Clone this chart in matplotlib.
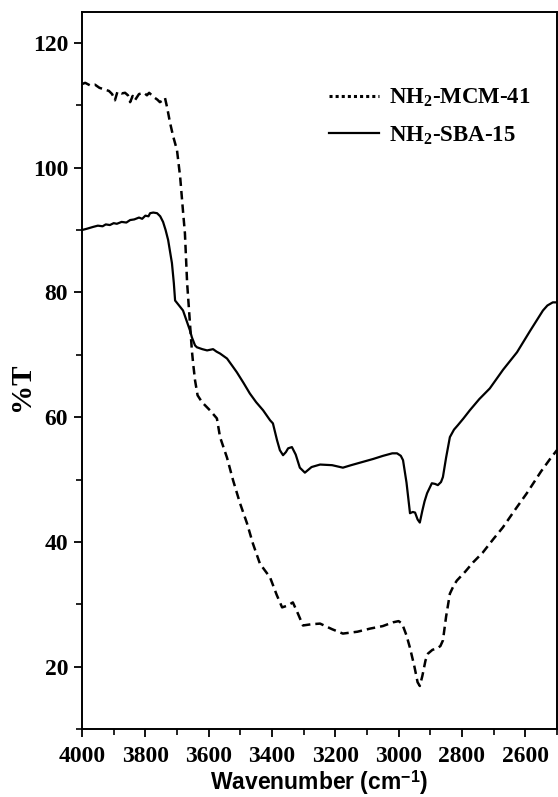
import matplotlib
matplotlib.use("Agg")
import matplotlib.pyplot as plt
from matplotlib.lines import Line2D
from matplotlib.ticker import MultipleLocator

# Fonts: Times-like bold for ticks and legend, Arial-like bold for x label
plt.rcParams['font.family'] = ['Liberation Serif', 'DejaVu Serif']
plt.rcParams['font.weight'] = 'bold'
plt.rcParams['mathtext.fontset'] = 'custom'
plt.rcParams['mathtext.rm'] = 'Liberation Serif:bold'
plt.rcParams['mathtext.it'] = 'Liberation Serif:bold'
plt.rcParams['mathtext.bf'] = 'Liberation Serif:bold'
plt.rcParams['mathtext.sf'] = 'Liberation Sans:bold'

# Data
mcm_wn = [4000, 3990, 3975, 3959, 3945, 3927, 3915, 3905, 3896, 3888, 3875,
          3864, 3855, 3848, 3840, 3833, 3820, 3804, 3795, 3788, 3773, 3762,
          3754, 3745, 3738, 3731, 3722, 3712, 3700, 3690, 3681, 3675, 3668,
          3659, 3653, 3649, 3643, 3635, 3621, 3596, 3574, 3564, 3542, 3523,
          3501, 3479, 3460, 3438, 3406, 3385, 3368, 3350, 3334, 3318, 3302,
          3275, 3248, 3210, 3176, 3130, 3090, 3050, 3018, 3000, 2989, 2975,
          2964, 2950, 2940, 2933, 2925, 2915, 2907, 2893, 2879, 2868, 2860,
          2850, 2838, 2826, 2816, 2790, 2765, 2734, 2700, 2671, 2630, 2595,
          2550, 2520, 2500]
mcm_t = [113.4, 113.6, 113.2, 113.3, 112.8, 112.5, 112.3, 111.8, 110.8, 112.2,
         111.9, 112.0, 111.6, 110.5, 111.5, 110.8, 111.8, 112.0, 111.6, 112.0,
         111.3, 110.9, 110.5, 110.8, 111.2, 109.6, 107.2, 105.0, 102.8, 98.5,
         93.0, 89.5, 81.5, 75.0, 70.7, 68.6, 65.9, 63.5, 62.4, 61.1, 59.8,
         56.8, 53.5, 49.9, 46.2, 43.0, 39.7, 36.5, 34.3, 31.5, 29.5, 29.8,
         30.3, 28.5, 26.6, 26.8, 26.9, 26.0, 25.3, 25.6, 26.1, 26.5, 27.1,
         27.3, 26.9, 25.0, 23.0, 20.0, 17.5, 16.9, 18.5, 21.0, 22.1, 22.7,
         22.9, 23.3, 24.2, 28.0, 31.7, 33.0, 33.8, 35.2, 36.7, 38.3, 40.5,
         42.3, 45.3, 47.8, 51.3, 53.4, 54.7]

sba_wn = [4000, 3985, 3965, 3950, 3935, 3925, 3912, 3900, 3890, 3875, 3860,
          3848, 3835, 3820, 3810, 3800, 3790, 3785, 3775, 3763, 3753, 3744,
          3736, 3728, 3716, 3710, 3706, 3695, 3681, 3670, 3659, 3653, 3643,
          3637, 3620, 3605, 3586, 3575, 3564, 3542, 3525, 3511, 3490, 3470,
          3450, 3428, 3406, 3397, 3384, 3375, 3365, 3356, 3349, 3337, 3325,
          3312, 3296, 3275, 3248, 3210, 3176, 3150, 3122, 3080, 3049, 3020,
          3005, 2993, 2986, 2975, 2964, 2955, 2948, 2940, 2933, 2925, 2918,
          2910, 2895, 2885, 2876, 2866, 2860, 2850, 2838, 2825, 2813, 2795,
          2775, 2745, 2712, 2670, 2626, 2585, 2544, 2530, 2513, 2500]
sba_t = [90.0, 90.2, 90.5, 90.7, 90.6, 90.9, 90.8, 91.1, 91.0, 91.3, 91.2,
         91.6, 91.7, 92.0, 91.8, 92.3, 92.2, 92.7, 92.8, 92.7, 92.2, 91.3,
         90.0, 88.4, 84.7, 81.5, 78.7, 78.0, 77.1, 75.5, 73.9, 72.8, 71.5,
         71.2, 70.9, 70.7, 70.9, 70.5, 70.2, 69.4, 68.2, 67.2, 65.5, 63.8,
         62.4, 61.1, 59.5, 59.0, 56.3, 54.7, 53.9, 54.4, 55.0, 55.2, 54.0,
         51.9, 51.1, 52.0, 52.4, 52.3, 51.9, 52.3, 52.7, 53.3, 53.8, 54.2,
         54.2, 53.8, 53.1, 49.5, 44.6, 44.8, 44.7, 43.6, 43.1, 45.0, 46.5,
         47.8, 49.4, 49.3, 49.1, 49.6, 50.4, 53.5, 56.8, 58.0, 58.7, 59.8,
         61.1, 62.9, 64.6, 67.6, 70.4, 73.8, 77.1, 77.9, 78.4, 78.4]

labels = [r'NH$_2$-MCM-41', r'NH$_2$-SBA-15']

fig = plt.figure(figsize=(5.58, 7.97), dpi=100)
ax = fig.add_axes([0.147, 0.0853, 0.851, 0.9])

ax.plot(mcm_wn, mcm_t, color='black', lw=1.8, linestyle=(0, (3.4, 2.0)))
ax.plot(sba_wn, sba_t, color='black', lw=1.6)

ax.set_xlim(4000, 2500)
ax.set_ylim(10, 125)
ax.xaxis.set_major_locator(MultipleLocator(200))
ax.xaxis.set_minor_locator(MultipleLocator(100))
ax.yaxis.set_major_locator(MultipleLocator(20))
ax.yaxis.set_minor_locator(MultipleLocator(10))
ax.tick_params(which='major', direction='out', length=6, width=1.3,
               labelsize=17, pad=4, top=False, right=False)
ax.tick_params(axis='x', which='major', pad=6)
ax.tick_params(which='minor', direction='out', length=4, width=1.2,
               top=False, right=False)
for lbl in ax.get_xticklabels() + ax.get_yticklabels():
    lbl.set_fontweight('bold')
for sp in ax.spines.values():
    sp.set_linewidth(1.4)

ax.set_xlabel(r'Wavenumber (cm$^{\mathsf{-1}}$)', family='Liberation Sans',
              fontsize=16.5, fontweight='bold', labelpad=1)
ax.set_ylabel('%T', fontsize=21, fontweight='bold')
ax.yaxis.set_label_coords(-0.1, 0.477)

# Legend: dotted sample for MCM-41, solid for SBA-15
handles = [Line2D([], [], color='black', lw=2.2, linestyle=(0, (1, 1))),
           Line2D([], [], color='black', lw=1.6)]
ax.legend(handles, labels, loc='upper left', bbox_to_anchor=(0.52, 0.895),
          frameon=False, handlelength=2.2, handletextpad=0.4,
          labelspacing=0.65, borderpad=0, borderaxespad=0,
          prop={'weight': 'bold', 'size': 16.5})

fig.savefig('out.png', dpi=100)
